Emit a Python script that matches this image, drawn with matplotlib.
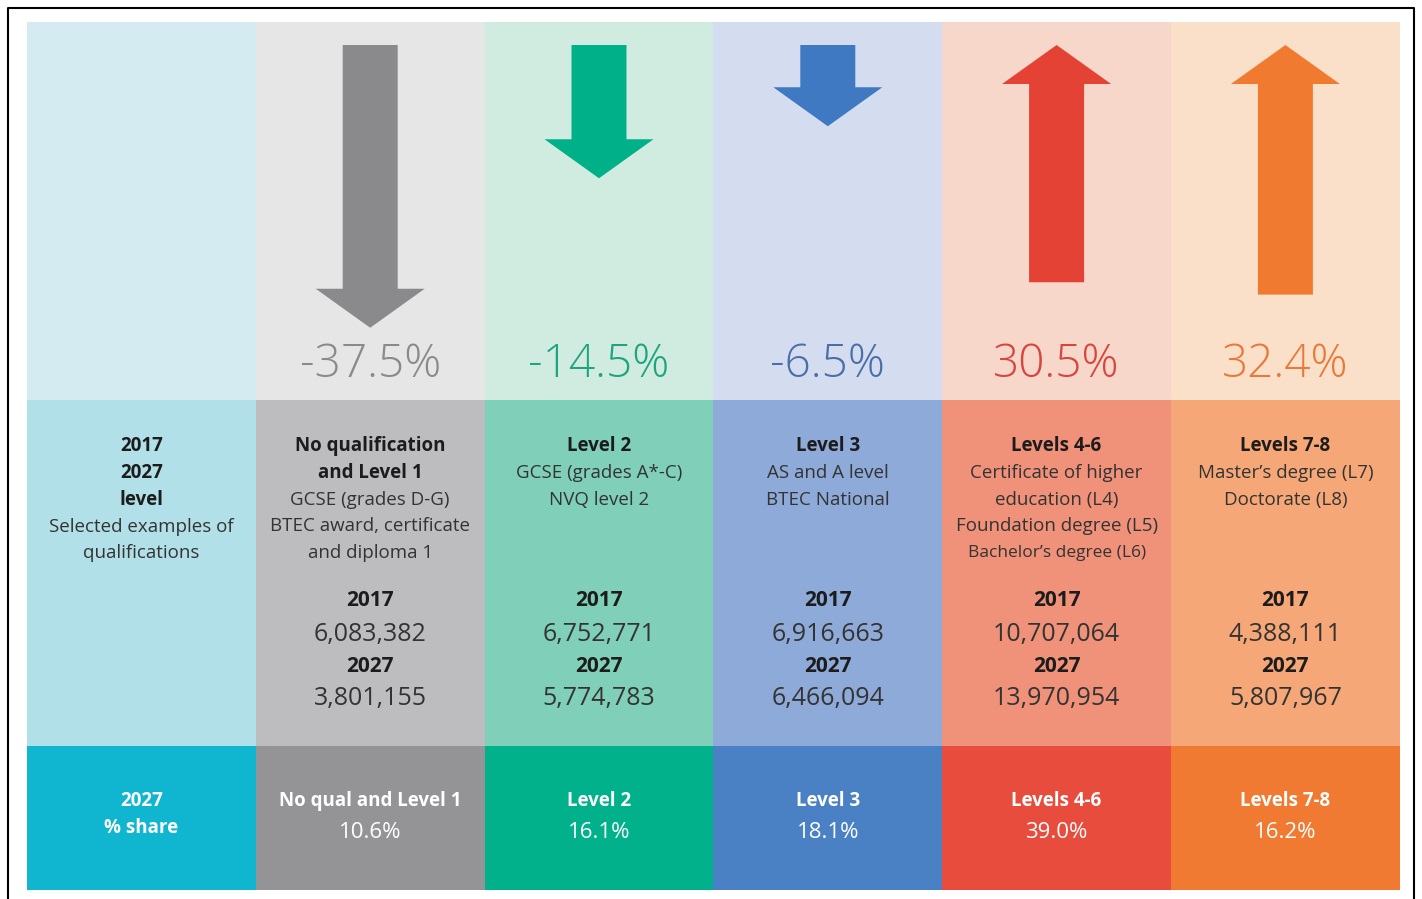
import matplotlib
matplotlib.use("Agg")
from matplotlib import pyplot as plt
from matplotlib.patches import Rectangle

plt.rcParams['font.family'] = ['Open Sans', 'DejaVu Sans']

levels = ["No qual and Level 1", "Level 2", "Level 3", "Levels 4-6", "Levels 7-8"]
pct_change = [-37.5, -14.5, -6.5, 30.5, 32.4]
count_2017 = [6083382, 6752771, 6916663, 10707064, 4388111]
count_2027 = [3801155, 5774783, 6466094, 13970954, 5807967]
share_2027 = [10.6, 16.1, 18.1, 39.0, 16.2]
titles = [["No qualification", "and Level 1"], ["Level 2"], ["Level 3"],
          ["Levels 4-6"], ["Levels 7-8"]]
examples = [["GCSE (grades D-G)", "BTEC award, certificate", "and diploma 1"],
            ["GCSE (grades A*-C)", "NVQ level 2"],
            ["AS and A level", "BTEC National"],
            ["Certificate of higher", "education (L4)", "Foundation degree (L5)",
             "Bachelor\u2019s degree (L6)"],
            ["Master\u2019s degree (L7)", "Doctorate (L8)"]]

# colours: top band, middle band, bottom band, arrow, pct text
top_cols = ["#d4ebf2", "#e6e6e6", "#d0ebdf", "#d4ddf0", "#f6d7c9", "#fbe0c9"]
mid_cols = ["#b2e0e8", "#bdbdbf", "#80cfb8", "#8eaad9", "#f0917a", "#f5a777"]
bot_cols = ["#10b6d0", "#949497", "#00b18b", "#4a80c4", "#e84c3d", "#f07a31"]
arrow_cols = ["#8a8a8c", "#00b088", "#3f79c2", "#e34234", "#f07a30"]
pct_cols = ["#8a8a8a", "#1ea57f", "#4a6ea8", "#d9443f", "#e8793a"]

fig = plt.figure(figsize=(14.22, 8.99), dpi=100)
ax = fig.add_axes([0, 0, 1, 1])
ax.set_xlim(0, 1422)
ax.set_ylim(899, 0)
ax.axis('off')

# outer frame
ax.plot([8, 8, 1414, 1414], [905, 8, 8, 905], color='black', lw=1.5)

x0, w = 27, 228.8
y_top, y_mid, y_bot, y_end = 22, 400, 746, 890
dark = "#1c1c1c"
body = "#333333"
fs_txt = 13.5

for i in range(6):
    x = x0 + i * w
    ax.add_patch(Rectangle((x, y_top), w, y_mid - y_top, color=top_cols[i], lw=0))
    ax.add_patch(Rectangle((x, y_mid), w, y_bot - y_mid, color=mid_cols[i], lw=0))
    ax.add_patch(Rectangle((x, y_bot), w, y_end - y_bot, color=bot_cols[i], lw=0))

# label column
cx = x0 + w / 2
for k, s in enumerate(["2017", "2027", "level"]):
    ax.text(cx, 446 + 26.8 * k, s, ha='center', va='center', fontsize=fs_txt,
            fontweight='bold', color=dark)
ax.text(cx, 527, "Selected examples of", ha='center', va='center', fontsize=fs_txt, color=body)
ax.text(cx, 553, "qualifications", ha='center', va='center', fontsize=fs_txt, color=body)
ax.text(cx, 801, "2027", ha='center', va='center', fontsize=fs_txt, fontweight='bold', color='white')
ax.text(cx, 828, "% share", ha='center', va='center', fontsize=fs_txt, fontweight='bold', color='white')

px_per_pct = 6.5
head_len, head_w, shaft_w, arrow_top = 39, 109, 55, 45

for j, lvl in enumerate(levels):
    cx = x0 + (j + 1) * w + w / 2
    # arrow sized by percentage change
    total = px_per_pct * abs(pct_change[j]) + head_len
    if pct_change[j] < 0:
        ax.arrow(cx, arrow_top, 0, total, width=shaft_w, head_width=head_w,
                 head_length=head_len, length_includes_head=True,
                 color=arrow_cols[j], lw=0)
    else:
        ax.arrow(cx, arrow_top + total, 0, -total, width=shaft_w, head_width=head_w,
                 head_length=head_len, length_includes_head=True,
                 color=arrow_cols[j], lw=0)
    ax.text(cx, 365, f"{pct_change[j]:.1f}%", ha='center', va='center',
            fontsize=33, color=pct_cols[j], fontweight='light')

    # descriptions
    lines = [(t, True) for t in titles[j]] + [(e, False) for e in examples[j]]
    for k, (s, b) in enumerate(lines):
        fs = fs_txt
        if j == 3 and k == 4:
            fs = 12.5
        ax.text(cx, 446 + 26.8 * k, s, ha='center', va='center', fontsize=fs,
                fontweight='bold' if b else 'normal', color=dark if b else body)

    # counts
    ax.text(cx, 601, "2017", ha='center', va='center', fontsize=15, fontweight='bold', color=dark)
    ax.text(cx, 634, f"{count_2017[j]:,}", ha='center', va='center', fontsize=18, color=body)
    ax.text(cx, 666, "2027", ha='center', va='center', fontsize=15, fontweight='bold', color=dark)
    ax.text(cx, 698, f"{count_2027[j]:,}", ha='center', va='center', fontsize=18, color=body)

    # share row
    ax.text(cx, 801, lvl, ha='center', va='center', fontsize=fs_txt, fontweight='bold', color='white')
    ax.text(cx, 832, f"{share_2027[j]:.1f}%", ha='center', va='center', fontsize=16, color='white')

fig.savefig("out.png", dpi=100)
